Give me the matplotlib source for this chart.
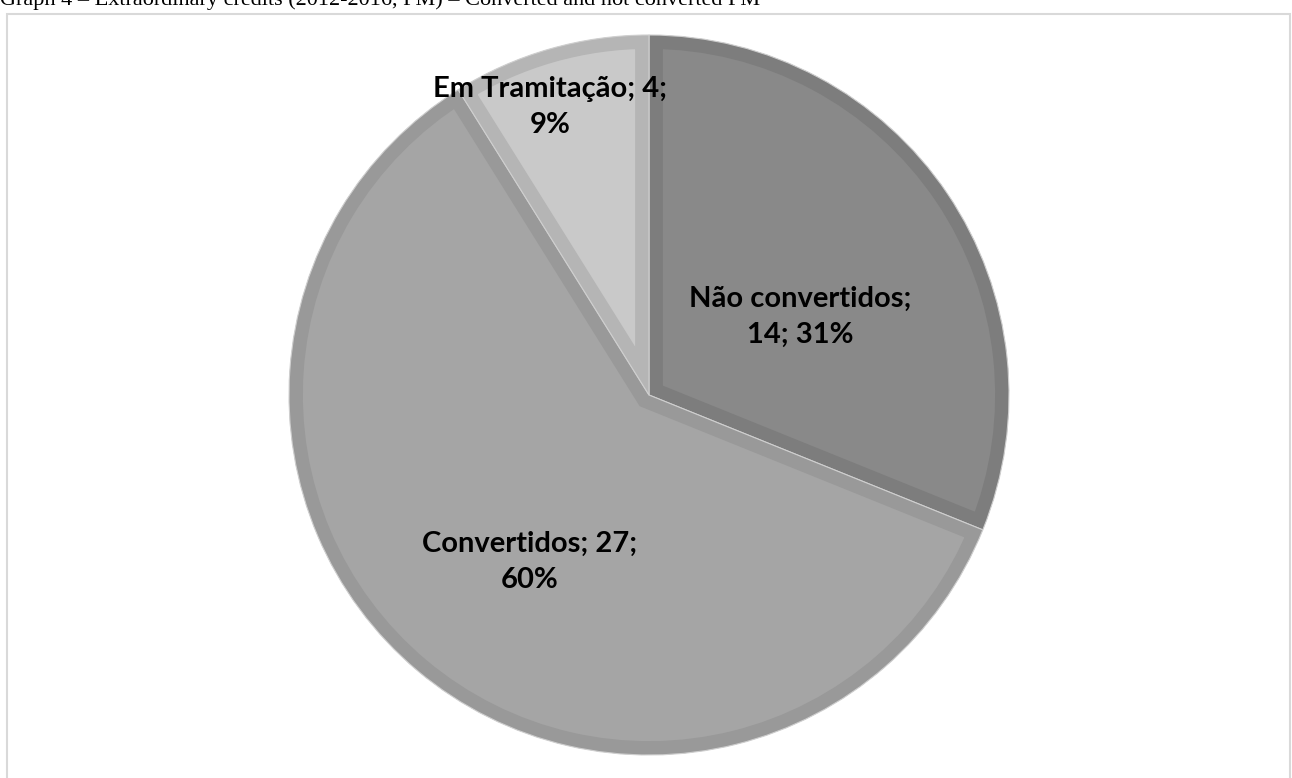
import matplotlib.pyplot as plt
from matplotlib.patches import Rectangle

# Extraordinary credits, 2012-2016
categories = ["Não convertidos", "Convertidos", "Em Tramitação"]
values = [14, 27, 4]
# where the label wraps: after the name (1) or after the count (2)
wrap_after = [1, 2, 2]

fills = ["#898989", "#a5a5a5", "#c9c9c9"]
borders = ["#7d7d7d", "#999999", "#b5b5b5"]

W, H = 1292, 778
fig = plt.figure(figsize=(W / 100, H / 100), dpi=100)
ax = fig.add_axes([0, 0, 1, 1])
ax.set_xlim(0, W)
ax.set_ylim(0, H)
ax.set_aspect("equal")
ax.axis("off")

# chart area frame (bottom runs off the page)
ax.add_patch(Rectangle((7, -10), 1283, H - 7 + 10 - 7, fill=False,
                       edgecolor="#d9d9d9", linewidth=1.5))

# caption above the chart, running off the top edge
ax.text(0, H - 5, "Graph 4 \u2013 Extraordinary credits (2012-2016, PM) \u2013 "
        "Converted and not converted PM", family="Liberation Serif",
        fontsize=16, va="baseline", ha="left", color="#000000")

total = sum(values)
labels = []
for cat, v, w in zip(categories, values, wrap_after):
    pct = round(100 * v / total)
    if w == 1:
        labels.append(f"{cat};\n{v}; {pct}%")
    else:
        labels.append(f"{cat}; {v};\n{pct}%")

wedges, texts = ax.pie(values, center=(649, H - 395), radius=360,
                       startangle=90, counterclock=False, colors=fills,
                       labels=labels, labeldistance=0.5,
                       wedgeprops=dict(linewidth=0),
                       textprops=dict(fontsize=21, fontweight="bold",
                                      family="Lato", ha="center",
                                      va="center", linespacing=1.5))
ax.set_xlim(0, W)
ax.set_ylim(0, H)

# bevelled border: thick stroke clipped to the wedge itself
for wd, bc in zip(wedges, borders):
    ring = ax.add_patch(type(wd)(wd.center, wd.r, wd.theta1, wd.theta2,
                                 fill=False, edgecolor=bc, linewidth=20))
    ring.set_clip_path(wd)
    # thin light seam between slices
    ax.add_patch(type(wd)(wd.center, wd.r, wd.theta1, wd.theta2,
                          fill=False, edgecolor="#cfcfcf", linewidth=0.8))

# label positions
label_pos = [(800, H - 317), (530, H - 562), (550, H - 107)]
for t, (x, y) in zip(texts, label_pos):
    t.set_position((x, y))

fig.savefig("out.png", dpi=100)
